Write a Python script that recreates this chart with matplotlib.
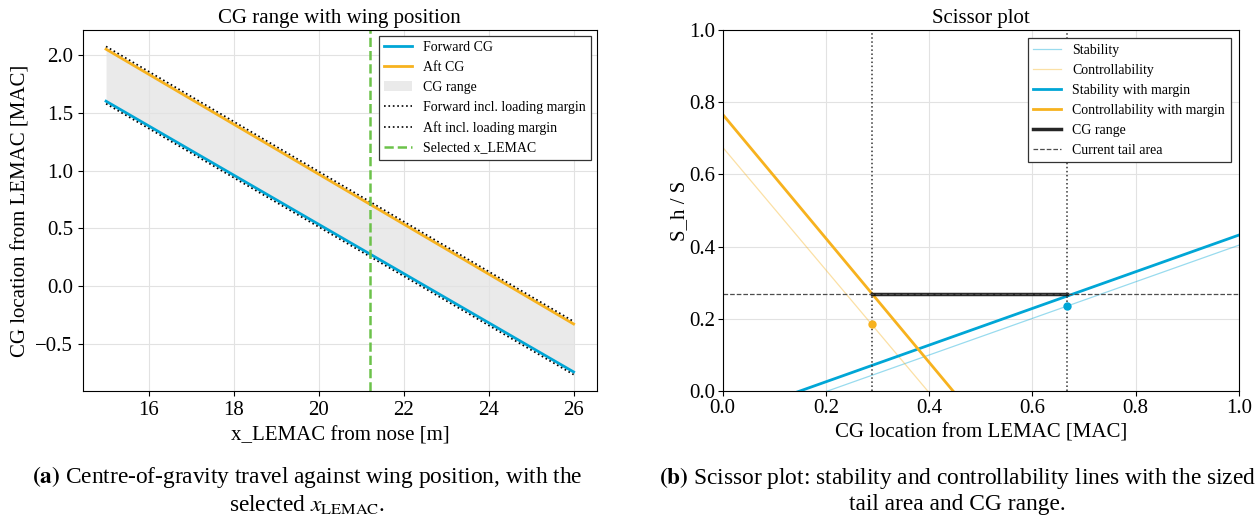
import numpy as np
import matplotlib
matplotlib.use("Agg")
import matplotlib.pyplot as plt

plt.rcParams['font.family'] = ['Liberation Serif', 'DejaVu Serif']
plt.rcParams['mathtext.fontset'] = 'stix'

BLUE = '#00A6D6'
ORANGE = '#F7B21E'
GREEN = '#6CC24A'

# --- (a) CG range against wing position ---
x_lemac = [15.0, 26.0]
fwd_cg = [1.60, -0.742]
aft_cg = [2.05, -0.327]
fwd_cg_margin = [1.578, -0.765]
aft_cg_margin = [2.074, -0.305]
x_lemac_selected = 21.2

# --- (b) scissor plot ---
x_cg = [0.0, 1.0]
stability = [-0.103, 0.404]
stability_margin = [-0.076, 0.432]
control = [0.675, -1.025]
control_margin = [0.766, -0.951]
cg_range = [0.289, 0.666]
tail_area = 0.27
ctrl_point = (0.289, 0.185)
stab_point = (0.666, 0.235)

fig = plt.figure(figsize=(12.6, 5.17), dpi=100)
ax1 = fig.add_axes([0.0656, 0.2437, 0.4082, 0.6983])
ax2 = fig.add_axes([0.5736, 0.2437, 0.4097, 0.6983])

fs = 15

ax1.plot(x_lemac, fwd_cg, color=BLUE, lw=2, label='Forward CG')
ax1.plot(x_lemac, aft_cg, color=ORANGE, lw=2, label='Aft CG')
ax1.fill_between(x_lemac, fwd_cg, aft_cg, color='#e3e3e3', alpha=0.75, lw=0, label='CG range')
ax1.plot(x_lemac, fwd_cg_margin, 'k:', lw=1.2, label='Forward incl. loading margin')
ax1.plot(x_lemac, aft_cg_margin, 'k:', lw=1.2, label='Aft incl. loading margin')
ax1.axvline(x_lemac_selected, color=GREEN, ls='--', lw=1.8, label='Selected x_LEMAC')
ax1.set_xticks([16, 18, 20, 22, 24, 26])
ax1.set_yticks([-0.5, 0.0, 0.5, 1.0, 1.5, 2.0])
ax1.grid(True, color='#e2e2e2', lw=0.8)
ax1.set_axisbelow(True)
ax1.set_title('CG range with wing position', fontsize=fs, pad=5)
ax1.set_xlabel('x_LEMAC from nose [m]', fontsize=fs, labelpad=5)
ax1.set_ylabel('CG location from LEMAC [MAC]', fontsize=fs, labelpad=3)
ax1.tick_params(labelsize=fs)
leg1 = ax1.legend(loc='upper right', fontsize=10, fancybox=False, framealpha=1,
                  edgecolor='0.2', borderaxespad=0.4)
leg1.get_frame().set_linewidth(0.9)

ax2.plot(x_cg, stability, color=BLUE, lw=0.9, alpha=0.4, label='Stability')
ax2.plot(x_cg, control, color=ORANGE, lw=0.9, alpha=0.4, label='Controllability')
ax2.plot(x_cg, stability_margin, color=BLUE, lw=2, label='Stability with margin')
ax2.plot(x_cg, control_margin, color=ORANGE, lw=2, label='Controllability with margin')
ax2.plot(cg_range, [tail_area, tail_area], color='k', lw=2.5, alpha=0.85, label='CG range')
ax2.axhline(tail_area, color='0.3', ls='--', lw=0.9, label='Current tail area')
for xc in cg_range:
    ax2.axvline(xc, color='0.2', ls=':', lw=1.1)
ax2.plot(*ctrl_point, 'o', color=ORANGE, ms=5)
ax2.plot(*stab_point, 'o', color=BLUE, ms=5)
ax2.set_xlim(0, 1)
ax2.set_ylim(0, 1)
ax2.set_xticks(np.arange(0, 1.01, 0.2))
ax2.set_yticks(np.arange(0, 1.01, 0.2))
ax2.grid(True, color='#e2e2e2', lw=0.8)
ax2.set_axisbelow(True)
ax2.set_title('Scissor plot', fontsize=fs, pad=5)
ax2.set_xlabel('CG location from LEMAC [MAC]', fontsize=fs, labelpad=4)
ax2.set_ylabel('S_h / S', fontsize=fs, labelpad=0)
ax2.tick_params(labelsize=fs, pad=2)
leg2 = ax2.legend(loc='upper right', fontsize=10, fancybox=False, framealpha=1,
                  edgecolor='0.2', borderaxespad=0.6)
leg2.get_frame().set_linewidth(0.9)

cap = 16.8
fig.text(0.244, 0.052,
         r'$\mathbf{(a)}$ Centre-of-gravity travel against wing position, with the' + '\n'
         + r'selected $x_{\mathrm{LEMAC}}$.',
         ha='center', va='center', fontsize=cap, linespacing=1.15)
fig.text(0.760, 0.052,
         r'$\mathbf{(b)}$ Scissor plot: stability and controllability lines with the sized' + '\n'
         + 'tail area and CG range.',
         ha='center', va='center', fontsize=cap, linespacing=1.15)

fig.savefig('out.png', dpi=100)
